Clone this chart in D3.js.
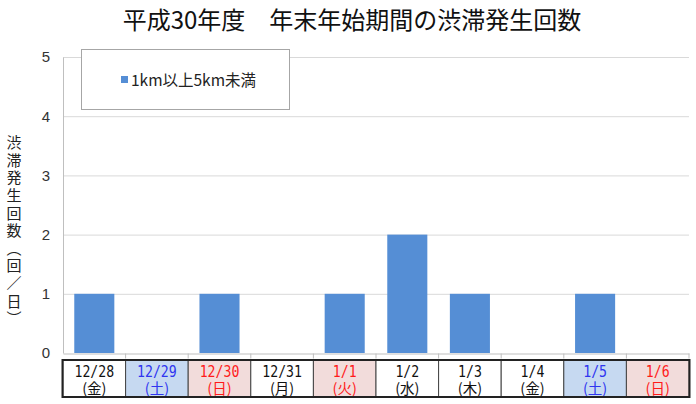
<!DOCTYPE html>
<html>
<head>
<meta charset="utf-8">
<script src="https://cdn.jsdelivr.net/npm/d3@7"></script>
<style>
  body { margin: 0; background: #fff; }
  svg { font-family: "Noto Sans CJK JP", "Noto Sans", sans-serif; }
</style>
</head>
<body>
<svg id="chart"></svg>
<script>
// 日付・曜日・渋滞発生回数
let dates = ['12/28', '12/29', '12/30', '12/31', '1/1', '1/2', '1/3', '1/4', '1/5', '1/6'];
let days = ['金', '土', '日', '月', '火', '水', '木', '金', '土', '日'];
// 0 = 平日, 1 = 土曜, 2 = 日曜・祝日
let dayTypes = [0, 1, 2, 0, 2, 0, 0, 0, 1, 2];
let counts = [1, 0, 1, 0, 1, 2, 1, 0, 1, 0];
let yTicks = [0, 1, 2, 3, 4, 5];
let seriesName = '1km以上5km未満';

let width = 696, height = 404;
let margin = {top: 57, right: 7, bottom: 51, left: 63};
let plotBottom = height - margin.bottom;

let svg = d3.select('#chart')
  .attr('width', width)
  .attr('height', height);

let xScale = d3.scaleBand()
  .domain(dates)
  .range([margin.left, width - margin.right])
  .paddingInner(0.36)
  .paddingOuter(0.18);

let cellScale = d3.scaleBand()
  .domain(dates)
  .range([margin.left, width - margin.right]);

let yScale = d3.scaleLinear()
  .domain([0, 5])
  .range([plotBottom, margin.top]);

// title
svg.append('text')
  .attr('x', 352)
  .attr('y', 29)
  .attr('text-anchor', 'middle')
  .attr('font-size', 24)
  .attr('fill', '#111')
  .text('平成30年度\u3000年末年始期間の渋滞発生回数');

// gridlines
svg.append('g')
  .selectAll('line')
  .data(yTicks.filter(d => d > 0))
  .enter().append('line')
  .attr('x1', margin.left)
  .attr('x2', width - margin.right)
  .attr('y1', d => yScale(d) + 0.5)
  .attr('y2', d => yScale(d) + 0.5)
  .attr('stroke', '#d9d9d9')
  .attr('stroke-width', 1);

// y axis
let yAxis = svg.append('g')
  .attr('transform', `translate(${margin.left},0)`)
  .call(d3.axisLeft(yScale).tickValues(yTicks).tickFormat(d3.format('d')).tickSize(0).tickPadding(13));
yAxis.select('.domain').attr('stroke', '#bfbfbf');
yAxis.selectAll('text')
  .attr('font-size', 15)
  .attr('fill', '#333')
  .attr('font-family', 'Arial, "Liberation Sans", sans-serif');

// bars
svg.append('g')
  .selectAll('rect')
  .data(counts)
  .enter().append('rect')
  .attr('x', (d, i) => xScale(dates[i]))
  .attr('y', d => yScale(d))
  .attr('width', xScale.bandwidth())
  .attr('height', d => plotBottom - yScale(d))
  .attr('fill', '#558ed5');

// x axis line with category ticks
let xAxis = svg.append('g')
  .attr('transform', `translate(0,${plotBottom + 0.5})`)
  .call(d3.axisBottom(cellScale).tickValues([]).tickSizeOuter(0));
xAxis.select('.domain').attr('stroke', '#bfbfbf');
xAxis.selectAll('.cat-tick')
  .data(dates)
  .enter().append('line')
  .attr('x1', d => cellScale(d) + cellScale.bandwidth())
  .attr('x2', d => cellScale(d) + cellScale.bandwidth())
  .attr('y1', 0)
  .attr('y2', 5)
  .attr('stroke', '#bfbfbf');

// date table under the axis
let tableTop = 360, tableBottom = 397;
let cellFill = ['#ffffff', '#c6d9f1', '#f2dcdb'];
let textFill = ['#111111', '#2f35f0', '#ff1a1a'];

let cells = svg.append('g')
  .selectAll('g')
  .data(dates)
  .enter().append('g');

cells.append('rect')
  .attr('x', d => cellScale(d))
  .attr('y', tableTop)
  .attr('width', cellScale.bandwidth())
  .attr('height', tableBottom - tableTop)
  .attr('fill', (d, i) => cellFill[dayTypes[i]])
  .attr('stroke', '#444')
  .attr('stroke-width', 1);

// narrow, tall monospaced lettering like the original table
cells.append('text')
  .attr('transform', d => `translate(${cellScale(d) + cellScale.bandwidth() / 2},${tableTop + 16.5}) scale(0.8,1)`)
  .attr('text-anchor', 'middle')
  .attr('font-size', 16.5)
  .attr('font-family', '"DejaVu Sans Mono", "Liberation Mono", monospace')
  .attr('fill', (d, i) => textFill[dayTypes[i]])
  .text(d => d);

cells.append('text')
  .attr('x', d => cellScale(d) + cellScale.bandwidth() / 2)
  .attr('y', tableTop + 33.5)
  .attr('text-anchor', 'middle')
  .attr('font-size', 14.5)
  .attr('fill', (d, i) => textFill[dayTypes[i]])
  .text((d, i) => '(' + days[i] + ')');

svg.append('rect')
  .attr('x', margin.left - 0.5)
  .attr('y', tableTop)
  .attr('width', width - margin.right - margin.left + 1)
  .attr('height', tableBottom - tableTop)
  .attr('fill', 'none')
  .attr('stroke', '#222')
  .attr('stroke-width', 2);

// y axis title (vertical)
svg.append('text')
  .attr('x', 14)
  .attr('y', 135)
  .attr('font-size', 15)
  .attr('fill', '#222')
  .attr('letter-spacing', 2.6)
  .style('writing-mode', 'vertical-rl')
  .text('渋滞発生回数（回／日）');

// legend
let legend = svg.append('g');
legend.append('rect')
  .attr('x', 81.5)
  .attr('y', 49.5)
  .attr('width', 208)
  .attr('height', 60)
  .attr('fill', '#fff')
  .attr('stroke', '#a6a6a6');
legend.append('rect')
  .attr('x', 121)
  .attr('y', 76)
  .attr('width', 7)
  .attr('height', 7)
  .attr('fill', '#558ed5');
legend.append('text')
  .attr('x', 131)
  .attr('y', 86)
  .attr('font-size', 15.5)
  .attr('fill', '#222')
  .text(seriesName);
</script>
</body>
</html>
